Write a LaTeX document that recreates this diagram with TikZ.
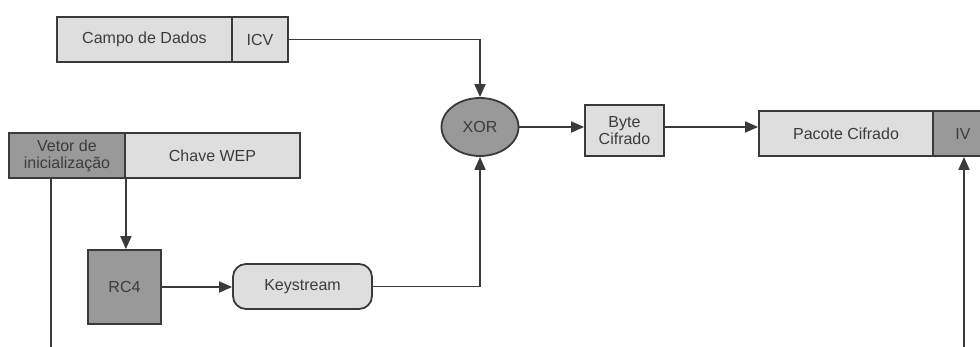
\documentclass[tikz,border=0pt]{standalone}
\usepackage{fontspec}
\setmainfont{Liberation Sans}
\usetikzlibrary{arrows.meta,shapes.geometric}

\definecolor{lightfill}{HTML}{DEDEDE}
\definecolor{darkfill}{HTML}{999999}
\definecolor{edge}{HTML}{3A3A3A}
\definecolor{ink}{HTML}{3C3C3C}

\tikzset{
  field/.style={draw=edge, line width=1.8pt, fill=lightfill, text=ink,
    inner sep=0pt, minimum height=45pt, font=\fontsize{16}{18}\selectfont, align=center},
  darkfield/.style={field, fill=darkfill},
  wire/.style={draw=edge, line width=1.8pt},
  flow/.style={wire, -{Triangle[length=13pt,width=11pt]}},
}

\begin{document}
\begin{tikzpicture}[x=1pt,y=-1pt]
  \path[use as bounding box, fill=white] (0,0) rectangle (980,347);
  \clip (0,0) rectangle (980,347);

  % data frame with its integrity check value
  \node[field, minimum width=175pt] (campo) at (144.5,39.5) {Campo de Dados};
  \node[field, minimum width=56pt] (icv) at (260,39.5) {ICV};

  % IV concatenated with the WEP key
  \node[darkfield, minimum width=116pt] (vetor) at (67,155.5) {Vetor de\\[-1pt]inicialização};
  \node[field, minimum width=175pt] (chave) at (212.5,155.5) {Chave WEP};

  % RC4 and its output
  \node[darkfield, minimum width=73pt, minimum height=74pt] (rc4) at (124.5,287) {RC4};
  \node[field, rounded corners=13pt, minimum width=139pt] (ks) at (302.5,286.5) {Keystream};

  % XOR stage
  \node[darkfield, ellipse, minimum width=77pt, minimum height=58pt] (xor) at (480,127) {XOR};
  \node[field, minimum width=79pt, minimum height=51pt] (byte) at (624.5,130.5) {Byte\\[-1pt]Cifrado};

  % encrypted packet with the IV in clear
  \node[field, minimum width=174pt] (pacote) at (846,133.5) {Pacote Cifrado};
  \node[darkfield, minimum width=60pt] (iv) at (963,133.5) {IV};

  % loose ends running off the bottom edge
  \coordinate (ivdown) at (51,347);
  \coordinate (ivup) at (964,347);

  % connectors
  \draw[flow] (icv.east) -| (xor.north);
  \draw[flow] (xor.east) -- (xor.east -| byte.west);
  \draw[flow] (xor.east -| byte.east) -- (xor.east -| pacote.west);
  \draw[flow] (vetor.south east) -- (vetor.south east |- rc4.north);
  \draw[flow] (rc4.east) -- (rc4.east -| ks.west);
  \draw[flow] (ks.east) -| (xor.south);
  \draw[wire] (ivdown |- vetor.south) -- (ivdown);
  \draw[flow] (ivup) -- (ivup |- iv.south);
\end{tikzpicture}
\end{document}
